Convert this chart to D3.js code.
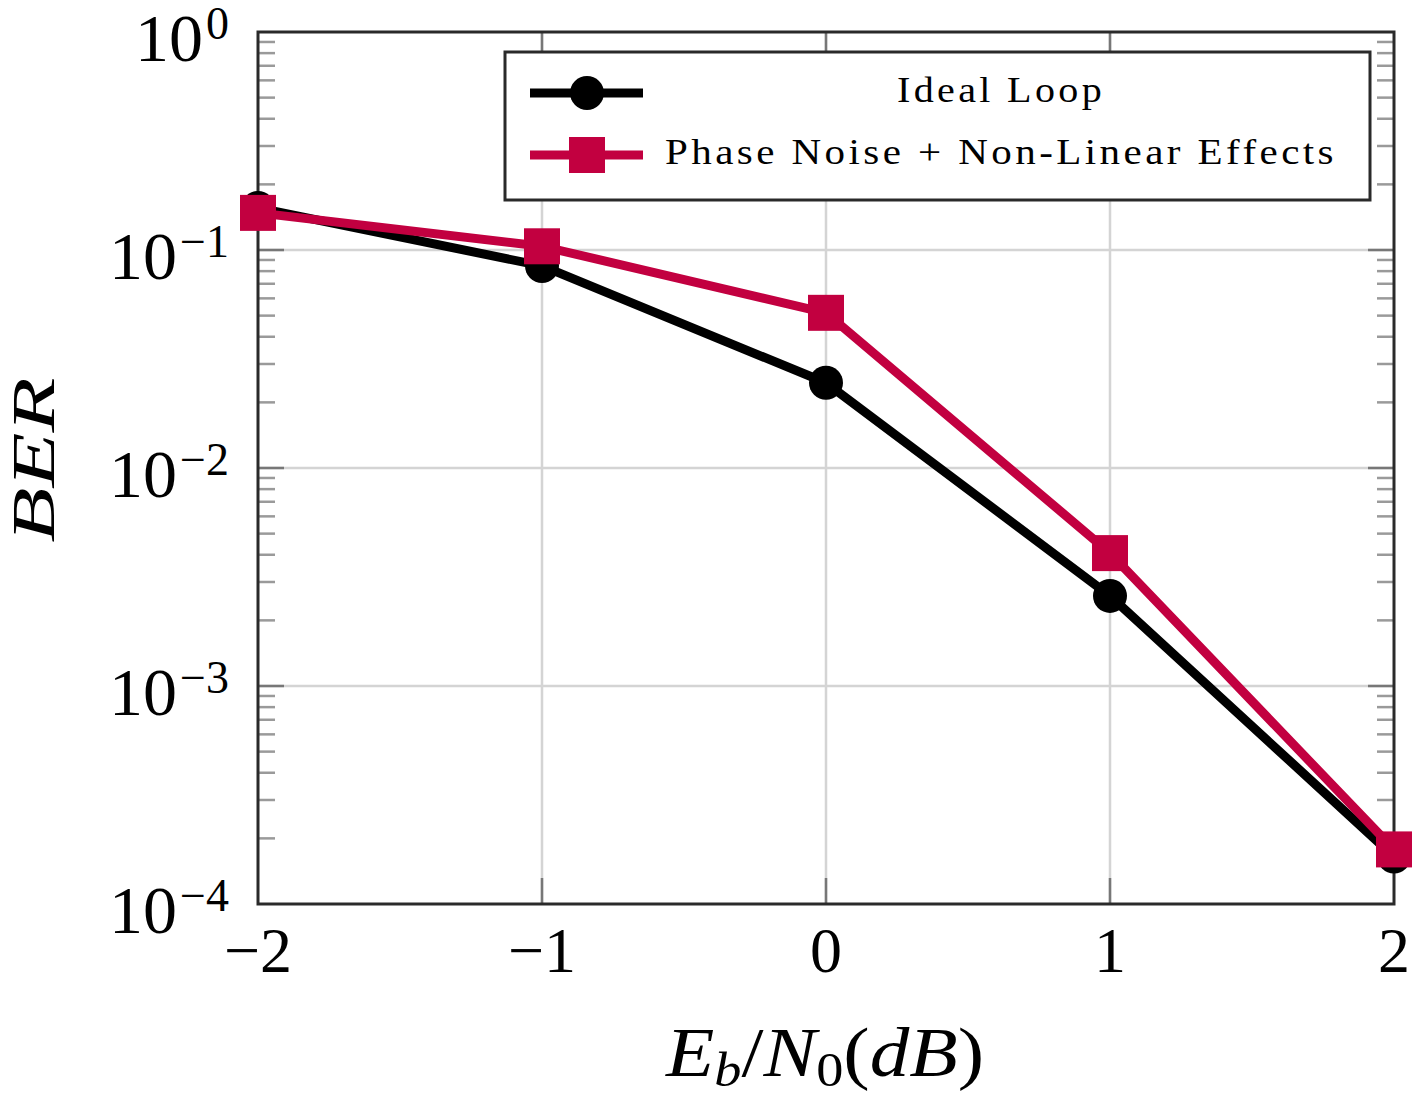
<!DOCTYPE html>
<html>
<head>
<meta charset="utf-8">
<script src="https://cdn.jsdelivr.net/npm/d3@7"></script>
<style>
  body { margin: 0; background: #fff; }
  svg { font-family: "Liberation Serif", "DejaVu Serif", serif; }
</style>
</head>
<body>
<script>
// BER vs Eb/N0 chart

var ebn0 = [-2, -1, 0, 1, 2];
var berIdeal = [0.156, 0.0845, 0.0246, 0.00259, 0.000165];
var berPhase = [0.148, 0.104, 0.0515, 0.00407, 0.000178];
var xTicks = [-2, -1, 0, 1, 2];
var yTickExp = [0, -1, -2, -3, -4];
var seriesNames = ["Ideal Loop", "Phase Noise + Non-Linear Effects"];

var width = 1415,
    height = 1102;

var margin = {left: 258, right: 21, top: 32, bottom: 198};

var svg = d3.select("body")
    .append("svg")
    .attr("width", width)
    .attr("height", height);

var x = d3.scaleLinear()
    .domain([-2, 2])
    .range([margin.left, width - margin.right]);

var y = d3.scaleLog()
    .domain([1e-4, 1])
    .range([height - margin.bottom, margin.top]);

var x0 = x.range()[0], x1 = x.range()[1],
    yTop = y.range()[1], yBot = y.range()[0];

//minor tick values 2..9 per decade
var minorVals = [];
yTickExp.forEach(function(e){
    if (e === 0) return;
    for (var k = 2; k <= 9; k++) minorVals.push(k * Math.pow(10, e));
});

//grid lines
svg.append("g").selectAll("line.xgrid")
    .data(xTicks.slice(1, -1))
    .enter().append("line")
    .attr("x1", function(d){ return x(d); })
    .attr("x2", function(d){ return x(d); })
    .attr("y1", yTop).attr("y2", yBot)
    .attr("stroke", "#d4d4d4").attr("stroke-width", 2.5);

svg.append("g").selectAll("line.ygrid")
    .data(yTickExp.slice(1, -1))
    .enter().append("line")
    .attr("x1", x0).attr("x2", x1)
    .attr("y1", function(d){ return y(Math.pow(10, d)); })
    .attr("y2", function(d){ return y(Math.pow(10, d)); })
    .attr("stroke", "#d4d4d4").attr("stroke-width", 2.5);

//minor ticks, left and right inside
var minorG = svg.append("g");
[[x0, 1], [x1, -1]].forEach(function(s){
    minorG.selectAll(null)
        .data(minorVals)
        .enter().append("line")
        .attr("x1", s[0]).attr("x2", s[0] + s[1] * 17)
        .attr("y1", function(d){ return y(d); })
        .attr("y2", function(d){ return y(d); })
        .attr("stroke", "#9a9a9a").attr("stroke-width", 2.5);
});

//major ticks
var majorG = svg.append("g");
[[yBot, -1], [yTop, 1]].forEach(function(s){
    majorG.selectAll(null)
        .data(xTicks.slice(1, -1))
        .enter().append("line")
        .attr("x1", function(d){ return x(d); })
        .attr("x2", function(d){ return x(d); })
        .attr("y1", s[0]).attr("y2", s[0] + s[1] * 26)
        .attr("stroke", "#777").attr("stroke-width", 2.5);
});
[[x0, 1], [x1, -1]].forEach(function(s){
    majorG.selectAll(null)
        .data(yTickExp.slice(1, -1))
        .enter().append("line")
        .attr("x1", s[0]).attr("x2", s[0] + s[1] * 26)
        .attr("y1", function(d){ return y(Math.pow(10, d)); })
        .attr("y2", function(d){ return y(Math.pow(10, d)); })
        .attr("stroke", "#777").attr("stroke-width", 2.5);
});

//frame
svg.append("rect")
    .attr("x", x0).attr("y", yTop)
    .attr("width", x1 - x0).attr("height", yBot - yTop)
    .attr("fill", "none")
    .attr("stroke", "#2a2a2a").attr("stroke-width", 3);

//lines
var line = d3.line()
    .x(function(d){ return x(d[0]); })
    .y(function(d){ return y(d[1]); });

var black = "#000",
    red = "#c20040";

var idealData = d3.zip(ebn0, berIdeal),
    phaseData = d3.zip(ebn0, berPhase);

svg.append("path")
    .datum(idealData)
    .attr("d", line)
    .attr("fill", "none").attr("stroke", black)
    .attr("stroke-width", 9).attr("stroke-linejoin", "round");

svg.selectAll("circle.ideal")
    .data(idealData)
    .enter().append("circle")
    .attr("cx", function(d){ return x(d[0]); })
    .attr("cy", function(d){ return y(d[1]); })
    .attr("r", 17).attr("fill", black);

svg.append("path")
    .datum(phaseData)
    .attr("d", line)
    .attr("fill", "none").attr("stroke", red)
    .attr("stroke-width", 9).attr("stroke-linejoin", "round");

svg.selectAll("rect.phase")
    .data(phaseData)
    .enter().append("rect")
    .attr("x", function(d){ return x(d[0]) - 18; })
    .attr("y", function(d){ return y(d[1]) - 18; })
    .attr("width", 36).attr("height", 36)
    .attr("fill", red);

//x tick labels
svg.selectAll("text.xlab")
    .data(xTicks)
    .enter().append("text")
    .attr("x", function(d){ return x(d); })
    .attr("y", 972)
    .attr("text-anchor", "middle")
    .attr("font-size", 64)
    .text(function(d){ return d < 0 ? "\u2212" + Math.abs(d) : d; });

//y tick labels: 10^e
var ylab = svg.selectAll("text.ylab")
    .data(yTickExp)
    .enter().append("text")
    .attr("x", 229)
    .attr("y", function(d){ return y(Math.pow(10, d)) + 29; })
    .attr("text-anchor", "end")
    .attr("font-size", 68);
ylab.append("tspan").text("10");
ylab.append("tspan")
    .attr("dx", 3)
    .attr("dy", -22)
    .attr("font-size", 46)
    .text(function(d){ return d === 0 ? "0" : "\u2212" + Math.abs(d); });

//axis titles
var xt = svg.append("text")
    .attr("x", 825).attr("y", 1076)
    .attr("text-anchor", "middle")
    .attr("font-size", 70)
    .attr("font-style", "italic")
    .attr("textLength", 318)
    .attr("lengthAdjust", "spacingAndGlyphs");
xt.append("tspan").text("E");
xt.append("tspan").attr("dy", 10).attr("font-size", 48).text("b");
xt.append("tspan").attr("dy", -10).attr("font-style", "normal").text("/");
xt.append("tspan").text("N");
xt.append("tspan").attr("dy", 10).attr("font-size", 48).attr("font-style", "normal").text("0");
xt.append("tspan").attr("dy", -10).attr("font-style", "normal").text("(");
xt.append("tspan").text("dB");
xt.append("tspan").attr("font-style", "normal").text(")");

svg.append("text")
    .attr("transform", "translate(54,460) rotate(-90)")
    .attr("text-anchor", "middle")
    .attr("font-size", 62)
    .attr("font-style", "italic")
    .attr("textLength", 165)
    .attr("lengthAdjust", "spacingAndGlyphs")
    .text("BER");

//legend
var legend = svg.append("g");
legend.append("rect")
    .attr("x", 505).attr("y", 52)
    .attr("width", 865).attr("height", 148)
    .attr("fill", "#fff")
    .attr("stroke", "#2a2a2a").attr("stroke-width", 3);

var rows = [
    {name: seriesNames[0], color: black, y: 93, mark: "circle", len: 208},
    {name: seriesNames[1], color: red, y: 155, mark: "square", len: 672}
];

rows.forEach(function(r){
    legend.append("line")
        .attr("x1", 530).attr("x2", 643)
        .attr("y1", r.y).attr("y2", r.y)
        .attr("stroke", r.color).attr("stroke-width", 9);
    if (r.mark === "circle") {
        legend.append("circle")
            .attr("cx", 587).attr("cy", r.y).attr("r", 17)
            .attr("fill", r.color);
    } else {
        legend.append("rect")
            .attr("x", 569).attr("y", r.y - 18)
            .attr("width", 36).attr("height", 36)
            .attr("fill", r.color);
    }
    legend.append("text")
        .attr("x", 1001).attr("y", r.y + 9)
        .attr("text-anchor", "middle")
        .attr("font-size", 36)
        .attr("letter-spacing", 3)
        .attr("textLength", r.len)
        .attr("lengthAdjust", "spacingAndGlyphs")
        .text(r.name);
});
</script>
</body>
</html>
